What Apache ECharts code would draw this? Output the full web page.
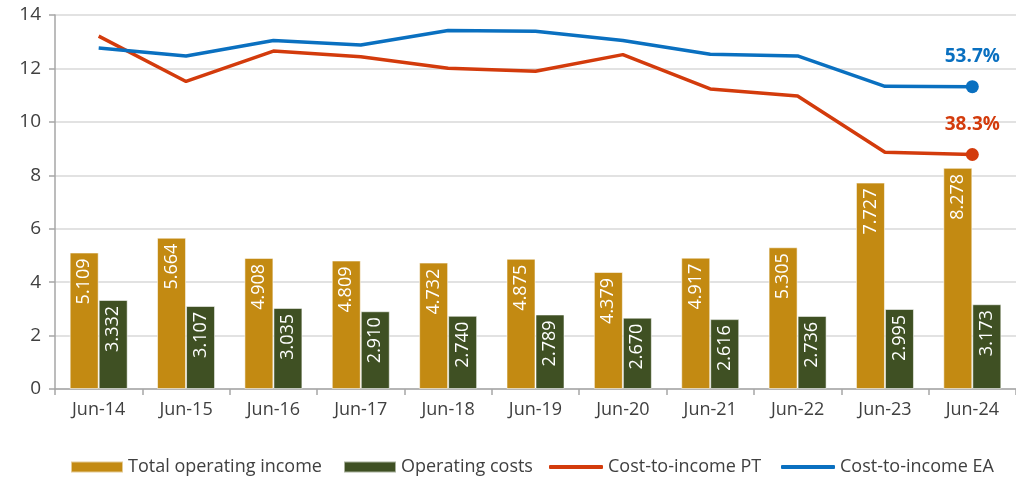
<!DOCTYPE html>
<html>
<head>
<meta charset="utf-8">
<script src="https://cdn.jsdelivr.net/npm/echarts@6/dist/echarts.min.js"></script>
<style>
  html, body { margin: 0; padding: 0; background: #fff; }
  #chart { width: 1016px; height: 479px; }
</style>
</head>
<body>
<div id="chart"></div>
<script>
// Category labels (half-year ends)
const categories = ['Jun-14', 'Jun-15', 'Jun-16', 'Jun-17', 'Jun-18', 'Jun-19', 'Jun-20', 'Jun-21', 'Jun-22', 'Jun-23', 'Jun-24'];

// Bars (left axis)
const totalOperatingIncome = [5.109, 5.664, 4.908, 4.809, 4.732, 4.875, 4.379, 4.917, 5.305, 7.727, 8.278];
const operatingCosts = [3.332, 3.107, 3.035, 2.910, 2.740, 2.789, 2.670, 2.616, 2.736, 2.995, 3.173];

// Ratios in % (hidden right axis)
const costToIncomePT = [65.2, 54.9, 61.8, 60.5, 57.9, 57.2, 61.0, 53.2, 51.6, 38.8, 38.3];
const costToIncomeEA = [62.5, 60.7, 64.2, 63.2, 66.5, 66.3, 64.2, 61.1, 60.7, 53.8, 53.7];

// Left axis ticks
const leftAxisMin = 0, leftAxisMax = 14, leftAxisStep = 2;
// Hidden ratio axis range
const ratioAxisMin = -15, ratioAxisMax = 70;

const FONT = '"Open Sans", sans-serif';
const COL_INCOME = '#C38A12';
const COL_COSTS = '#3F5023';
const COL_PT = '#D33B0C';
const COL_EA = '#0A70C0';
const TEXT = '#404040';

function endMarked(values, color) {
  return values.map((v, i) => {
    if (i !== values.length - 1) return v;
    return {
      value: v,
      symbol: 'circle',
      symbolSize: 13,
      itemStyle: { color: color },
      label: {
        show: true,
        position: 'top',
        distance: 14,
        formatter: p => p.value.toFixed(1) + '%',
        color: color,
        fontFamily: FONT,
        fontWeight: 'bold',
        fontSize: 19
      }
    };
  });
}

const barLabel = {
  show: true,
  position: 'insideTop',
  rotate: 90,
  align: 'right',
  verticalAlign: 'middle',
  distance: 6,
  color: '#fff',
  fontFamily: FONT,
  fontSize: 18,
  formatter: p => p.value.toFixed(3)
};

function legendAt(left, name, isLine) {
  return {
    left: left, top: 453,
    itemWidth: isLine ? 54 : 52,
    itemHeight: isLine ? 4 : 11,
    icon: isLine ? 'roundRect' : 'rect',
    textStyle: { fontFamily: FONT, fontSize: 18, color: TEXT },
    data: [name]
  };
}

const chart = echarts.init(document.getElementById('chart'), null, { renderer: 'canvas' });

chart.setOption({
  animation: false,
  backgroundColor: '#fff',
  textStyle: { fontFamily: FONT },
  grid: { left: 55, right: -7, top: 15, bottom: 90, containLabel: false },
  legend: [
    legendAt(65, 'Total operating income', false),
    legendAt(338, 'Operating costs', false),
    legendAt(544, 'Cost-to-income PT', true),
    legendAt(776, 'Cost-to-income EA', true)
  ],
  xAxis: {
    type: 'category',
    data: categories,
    axisLine: { lineStyle: { color: '#A6A6A6', width: 1.5 } },
    axisTick: { show: true, length: 6, lineStyle: { color: '#A6A6A6', width: 1.5 } },
    axisLabel: { fontFamily: FONT, fontSize: 18, color: TEXT, margin: 12 },
    splitLine: { show: false }
  },
  yAxis: [
    {
      type: 'value',
      min: leftAxisMin, max: leftAxisMax, interval: leftAxisStep,
      axisLine: { show: true, lineStyle: { color: '#A6A6A6', width: 1.5 } },
      axisTick: { show: true, length: 6, inside: false, lineStyle: { color: '#A6A6A6', width: 1.5 } },
      axisLabel: { fontFamily: FONT, fontSize: 19, color: TEXT, margin: 14 },
      splitLine: { show: true, lineStyle: { color: '#D9D9D9', width: 1.5 } }
    },
    {
      type: 'value',
      min: ratioAxisMin, max: ratioAxisMax,
      show: false,
      splitLine: { show: false }
    }
  ],
  series: [
    {
      name: 'Total operating income',
      type: 'bar',
      data: totalOperatingIncome,
      barWidth: 29,
      barGap: '0%',
      itemStyle: { color: COL_INCOME, borderColor: 'rgba(255,255,255,0.55)', borderWidth: 1 },
      label: barLabel
    },
    {
      name: 'Operating costs',
      type: 'bar',
      data: operatingCosts,
      barWidth: 29,
      barGap: '0%',
      itemStyle: { color: COL_COSTS, borderColor: 'rgba(255,255,255,0.55)', borderWidth: 1 },
      label: barLabel
    },
    {
      name: 'Cost-to-income PT',
      type: 'line',
      yAxisIndex: 1,
      data: endMarked(costToIncomePT, COL_PT),
      symbol: 'none',
      lineStyle: { color: COL_PT, width: 3.5 },
      itemStyle: { color: COL_PT },
      z: 5
    },
    {
      name: 'Cost-to-income EA',
      type: 'line',
      yAxisIndex: 1,
      data: endMarked(costToIncomeEA, COL_EA),
      symbol: 'none',
      lineStyle: { color: COL_EA, width: 3.5 },
      itemStyle: { color: COL_EA },
      z: 5
    }
  ]
});
</script>
</body>
</html>
